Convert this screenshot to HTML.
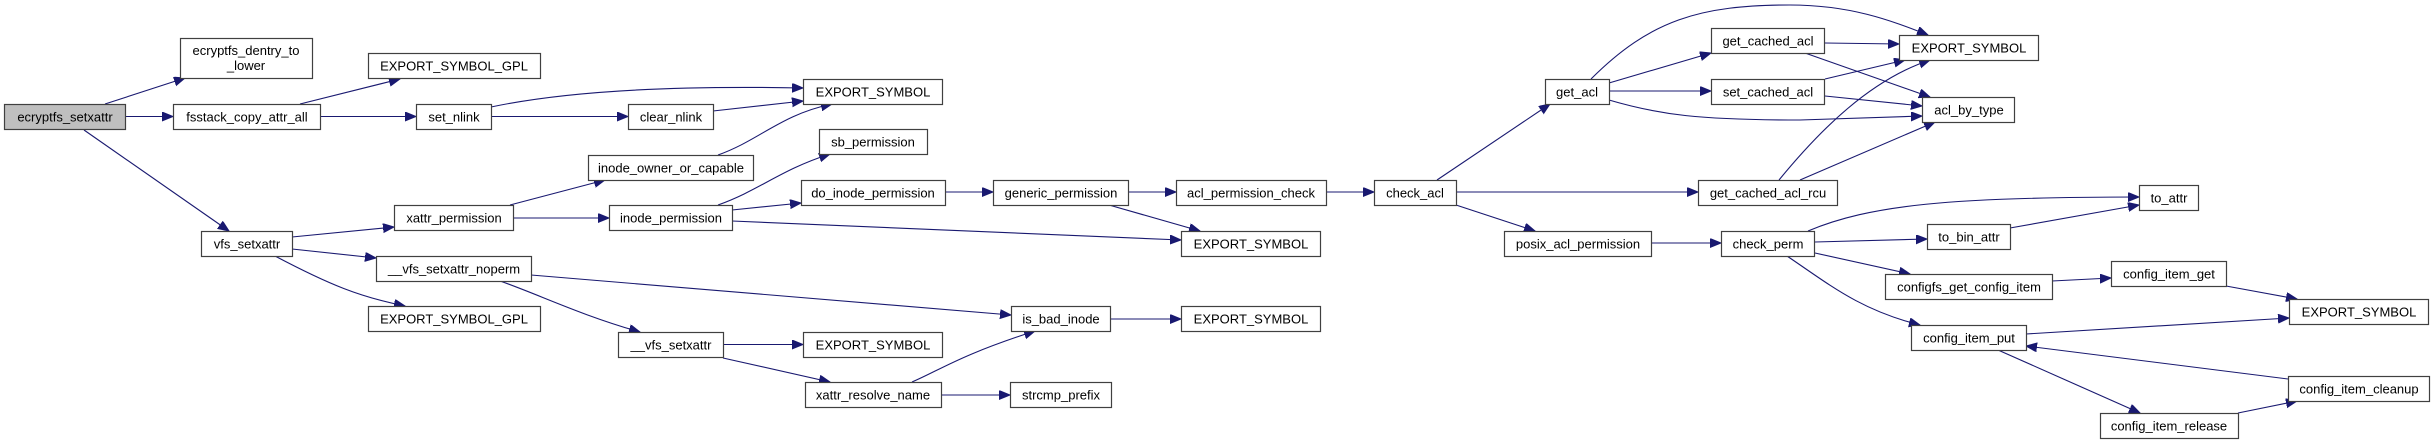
<!DOCTYPE html>
<html><head><meta charset="utf-8"><style>
html,body{margin:0;padding:0;background:#fff;width:2433px;height:445px;overflow:hidden}
svg{display:block}
text{font-family:"Liberation Sans",Arial,sans-serif;font-size:13px;fill:#000}
.n{fill:#fff;stroke:#404040;stroke-width:1.2}
.g{fill:#bfbfbf;stroke:#404040;stroke-width:1.2}
.e{fill:none;stroke:#191970;stroke-width:1.1}
</style></head><body>
<svg width="2433" height="445" viewBox="0 0 2433 445" xmlns="http://www.w3.org/2000/svg">
<defs><marker id="a" markerUnits="userSpaceOnUse" markerWidth="12" markerHeight="10" refX="11" refY="4.5" orient="auto"><path d="M0,0 L11,4.5 L0,9 Z" fill="#191970" stroke="#191970"/></marker></defs>
<g class="e" marker-end="url(#a)">
<path d="M105,104 L185,78"/>
<path d="M126,116.5 L173,116.5"/>
<path d="M84,130 L229,231"/>
<path d="M300,104 L400,79"/>
<path d="M320,116.5 L416,116.5"/>
<path d="M491,107 Q600,84 803,88"/>
<path d="M491,116.5 L628,116.5"/>
<path d="M713,111 L803,101"/>
<path d="M718,155 C760,140 780,115 832,104"/>
<path d="M292,237 L394,227"/>
<path d="M292,249 L376,258"/>
<path d="M275,256 C330,285 360,297 405,306"/>
<path d="M510,205 L605,180"/>
<path d="M513,218 L609,218"/>
<path d="M718,205 C760,190 780,170 830,154"/>
<path d="M732,210 L801,203"/>
<path d="M732,221 L1181,240"/>
<path d="M945,192 L993,192"/>
<path d="M1128,192 L1176,192"/>
<path d="M1109,205 L1200,231"/>
<path d="M1326,192 L1374,192"/>
<path d="M1437,180 L1550,104"/>
<path d="M1456,192 L1698,192"/>
<path d="M1456,205 L1535,231"/>
<path d="M1591,79 C1650,20 1700,5 1790,5 C1850,5 1890,20 1928,35"/>
<path d="M1609,83 L1711,53"/>
<path d="M1609,91 L1711,91"/>
<path d="M1609,100 C1660,115 1700,120 1800,120 L1922,116"/>
<path d="M1825,43 L1899,44"/>
<path d="M1805,53 L1930,97"/>
<path d="M1825,79 L1905,60"/>
<path d="M1825,96 L1922,106"/>
<path d="M1779,180 C1820,130 1870,80 1930,60"/>
<path d="M1800,180 L1935,122"/>
<path d="M1651,243 L1721,243"/>
<path d="M1808,231 C1870,205 1950,197 2139,197"/>
<path d="M1815,242 L1927,239"/>
<path d="M2010,228 L2139,205"/>
<path d="M1815,253 L1910,274"/>
<path d="M1787,256 C1830,285 1860,310 1920,325"/>
<path d="M2052,281 L2111,278"/>
<path d="M2226,286 L2297,299"/>
<path d="M2026,334 L2289,318"/>
<path d="M2288,379 L2026,346"/>
<path d="M1998,350 L2140,413"/>
<path d="M2238,413 L2297,401"/>
<path d="M531,275 L1011,315"/>
<path d="M500,281 C540,295 580,315 640,332"/>
<path d="M723,344.5 L803,344.5"/>
<path d="M723,358 L830,382"/>
<path d="M912,382 C940,370 960,355 1035,331"/>
<path d="M941,395 L1010,395"/>
<path d="M1110,319 L1181,319"/>
</g>
<g text-anchor="middle">
<rect class="g" x="4.5" y="104.5" width="121" height="25"/><text x="65" y="121.5">ecryptfs_setxattr</text>
<rect class="n" x="180.5" y="38.5" width="132" height="40"/><text x="246" y="55">ecryptfs_dentry_to</text><text x="246" y="70">_lower</text>
<rect class="n" x="173.5" y="104.5" width="147" height="25"/><text x="247" y="121.5">fsstack_copy_attr_all</text>
<rect class="n" x="368.5" y="53.5" width="172" height="25"/><text x="454" y="70.5">EXPORT_SYMBOL_GPL</text>
<rect class="n" x="416.5" y="104.5" width="75" height="25"/><text x="454" y="121.5">set_nlink</text>
<rect class="n" x="201.5" y="231.5" width="91" height="25"/><text x="247" y="248.5">vfs_setxattr</text>
<rect class="n" x="394.5" y="205.5" width="119" height="25"/><text x="454" y="222.5">xattr_permission</text>
<rect class="n" x="376.5" y="256.5" width="155" height="25"/><text x="454" y="273.5">__vfs_setxattr_noperm</text>
<rect class="n" x="368.5" y="306.5" width="172" height="25"/><text x="454" y="323.5">EXPORT_SYMBOL_GPL</text>
<rect class="n" x="588.5" y="155.5" width="165" height="25"/><text x="671" y="172.5">inode_owner_or_capable</text>
<rect class="n" x="609.5" y="205.5" width="123" height="25"/><text x="671" y="222.5">inode_permission</text>
<rect class="n" x="803.5" y="79.5" width="139" height="25"/><text x="873" y="96.5">EXPORT_SYMBOL</text>
<rect class="n" x="628.5" y="104.5" width="85" height="25"/><text x="671" y="121.5">clear_nlink</text>
<rect class="n" x="819.5" y="129.5" width="108" height="25"/><text x="873" y="146.5">sb_permission</text>
<rect class="n" x="801.5" y="180.5" width="144" height="25"/><text x="873" y="197.5">do_inode_permission</text>
<rect class="n" x="993.5" y="180.5" width="135" height="25"/><text x="1061" y="197.5">generic_permission</text>
<rect class="n" x="1176.5" y="180.5" width="150" height="25"/><text x="1251" y="197.5">acl_permission_check</text>
<rect class="n" x="1181.5" y="231.5" width="139" height="25"/><text x="1251" y="248.5">EXPORT_SYMBOL</text>
<rect class="n" x="1011.5" y="306.5" width="99" height="25"/><text x="1061" y="323.5">is_bad_inode</text>
<rect class="n" x="1181.5" y="306.5" width="139" height="25"/><text x="1251" y="323.5">EXPORT_SYMBOL</text>
<rect class="n" x="618.5" y="332.5" width="105" height="25"/><text x="671" y="349.5">__vfs_setxattr</text>
<rect class="n" x="803.5" y="332.5" width="139" height="25"/><text x="873" y="349.5">EXPORT_SYMBOL</text>
<rect class="n" x="805.5" y="382.5" width="136" height="25"/><text x="873" y="399.5">xattr_resolve_name</text>
<rect class="n" x="1010.5" y="382.5" width="101" height="25"/><text x="1061" y="399.5">strcmp_prefix</text>
<rect class="n" x="1374.5" y="180.5" width="82" height="25"/><text x="1415" y="197.5">check_acl</text>
<rect class="n" x="1545.5" y="79.5" width="64" height="25"/><text x="1577" y="96.5">get_acl</text>
<rect class="n" x="1711.5" y="28.5" width="113" height="25"/><text x="1768" y="45.5">get_cached_acl</text>
<rect class="n" x="1711.5" y="79.5" width="113" height="25"/><text x="1768" y="96.5">set_cached_acl</text>
<rect class="n" x="1698.5" y="180.5" width="139" height="25"/><text x="1768" y="197.5">get_cached_acl_rcu</text>
<rect class="n" x="1504.5" y="231.5" width="147" height="25"/><text x="1578" y="248.5">posix_acl_permission</text>
<rect class="n" x="1721.5" y="231.5" width="93" height="25"/><text x="1768" y="248.5">check_perm</text>
<rect class="n" x="1899.5" y="35.5" width="139" height="25"/><text x="1969" y="52.5">EXPORT_SYMBOL</text>
<rect class="n" x="1922.5" y="97.5" width="92" height="25"/><text x="1969" y="114.5">acl_by_type</text>
<rect class="n" x="2139.5" y="185.5" width="59" height="25"/><text x="2169" y="202.5">to_attr</text>
<rect class="n" x="1927.5" y="224.5" width="83" height="25"/><text x="1969" y="241.5">to_bin_attr</text>
<rect class="n" x="1885.5" y="274.5" width="167" height="25"/><text x="1969" y="291.5">configfs_get_config_item</text>
<rect class="n" x="2111.5" y="261.5" width="115" height="25"/><text x="2169" y="278.5">config_item_get</text>
<rect class="n" x="2289.5" y="299.5" width="139" height="25"/><text x="2359" y="316.5">EXPORT_SYMBOL</text>
<rect class="n" x="1911.5" y="325.5" width="115" height="25"/><text x="1969" y="342.5">config_item_put</text>
<rect class="n" x="2288.5" y="376.5" width="141" height="25"/><text x="2359" y="393.5">config_item_cleanup</text>
<rect class="n" x="2100.5" y="413.5" width="138" height="25"/><text x="2169" y="430.5">config_item_release</text>
</g>
</svg>
</body></html>
